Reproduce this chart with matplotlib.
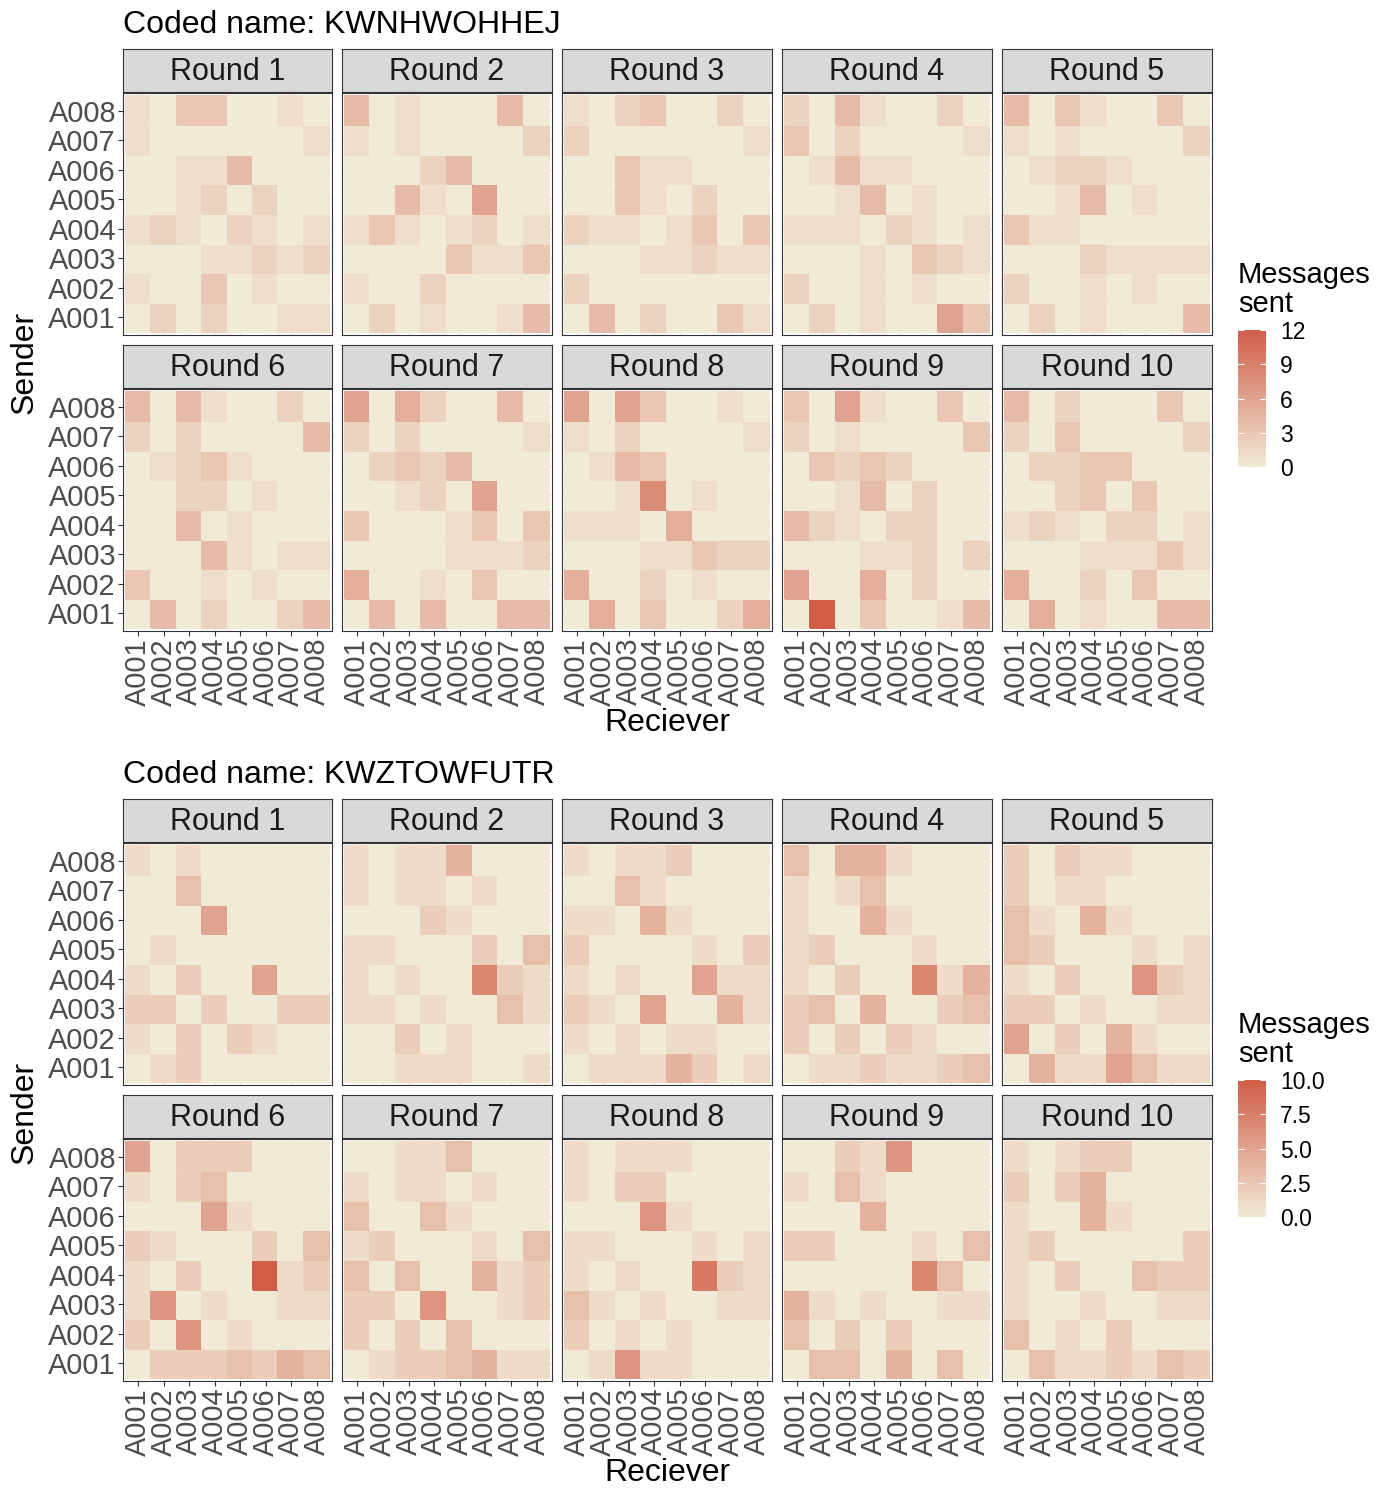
import numpy as np
import matplotlib
matplotlib.use('Agg')
import matplotlib as mpl
import matplotlib.pyplot as plt
from matplotlib.colors import LinearSegmentedColormap, Normalize

plt.rcParams['font.family'] = ['Liberation Sans', 'DejaVu Sans']

agents = ['A001', 'A002', 'A003', 'A004', 'A005', 'A006', 'A007', 'A008']
rounds = ['Round %d' % i for i in range(1, 11)]

# messages sent, rows = sender A008 (top) .. A001 (bottom), cols = receiver A001..A008
kwnh_rounds = [
    [[1,0,3,3,0,0,1,0],[1,0,0,0,0,0,0,1],[0,0,1,1,4,0,0,0],[0,0,1,2,0,2,0,0],
     [1,2,1,0,2,1,0,1],[0,0,0,1,1,2,1,2],[1,0,0,3,0,1,0,0],[0,2,0,2,0,0,1,1]],
    [[4,0,1,0,0,0,4,0],[1,0,1,0,0,0,0,2],[0,0,0,2,4,0,0,0],[0,0,4,1,0,6,0,0],
     [1,3,1,0,1,2,0,1],[0,0,0,0,3,1,1,3],[1,0,0,2,0,0,0,0],[0,2,0,1,0,0,1,4]],
    [[1,0,2,3,0,0,2,0],[2,0,0,0,0,0,0,1],[0,0,3,1,1,0,0,0],[0,0,3,1,0,2,0,0],
     [2,1,1,0,1,3,0,3],[0,0,0,1,1,2,1,1],[2,0,0,0,0,0,0,0],[0,4,0,2,0,0,3,1]],
    [[2,0,4,1,0,0,2,0],[3,0,2,0,0,0,0,1],[0,1,4,1,1,0,0,0],[0,0,1,4,0,1,0,0],
     [1,1,1,0,2,1,0,1],[0,0,0,1,0,3,2,1],[2,0,0,1,0,1,0,0],[0,2,0,1,0,0,6,3]],
    [[4,0,3,1,0,0,3,0],[1,0,1,0,0,0,0,2],[0,1,2,2,1,0,0,0],[0,0,1,4,0,1,0,0],
     [3,1,1,0,0,0,0,0],[0,0,0,2,1,1,1,1],[2,0,0,1,0,1,0,0],[0,2,0,1,0,0,0,4]],
    [[4,0,4,1,0,0,2,0],[2,0,2,0,0,0,0,4],[0,1,2,3,1,0,0,0],[0,0,2,2,0,1,0,0],
     [0,0,4,0,1,0,0,0],[0,0,0,4,1,0,1,1],[3,0,0,1,0,1,0,0],[0,4,0,2,0,0,2,4]],
    [[6,0,5,2,0,0,4,0],[2,0,2,0,0,0,0,1],[0,2,3,2,4,0,0,0],[0,0,1,2,0,6,0,0],
     [3,0,0,0,1,3,0,3],[0,0,0,0,1,1,1,2],[5,0,0,1,0,3,0,0],[0,4,0,4,0,0,4,4]],
    [[6,0,6,3,0,0,1,0],[1,0,2,0,0,0,0,1],[0,1,4,3,0,0,0,0],[0,0,1,8,0,1,0,0],
     [1,1,1,0,5,0,0,0],[0,0,0,1,1,3,2,2],[5,0,0,2,0,1,0,0],[0,5,0,3,0,0,2,5]],
    [[3,0,6,1,0,0,3,0],[2,0,1,0,0,0,0,3],[0,3,2,3,2,0,0,0],[0,0,1,4,0,2,0,0],
     [4,2,1,0,2,2,0,0],[0,0,0,1,1,2,0,2],[6,0,0,5,0,2,0,0],[0,12,0,3,0,0,1,4]],
    [[4,0,2,0,0,0,3,0],[2,0,3,0,0,0,0,2],[0,2,2,3,3,0,0,0],[0,0,2,3,0,3,0,0],
     [1,2,1,0,2,2,0,1],[0,0,0,1,1,1,3,1],[5,0,0,2,0,3,0,0],[0,5,0,1,0,0,4,4]],
]

kwzt_rounds = [
    [[1,0,1,0,0,0,0,0],[0,0,3,0,0,0,0,0],[0,0,0,5,0,0,0,0],[0,1,0,0,0,0,0,0],
     [1,0,2,0,0,5,0,0],[2,2,0,2,0,0,2,2],[1,0,2,0,2,1,0,0],[0,1,2,0,0,0,0,0]],
    [[1,0,1,1,4,0,0,0],[1,0,1,1,0,1,0,0],[0,0,0,2,1,0,0,0],[1,1,0,0,0,2,0,3],
     [1,0,1,0,0,7,2,1],[1,1,0,1,0,0,3,1],[0,0,2,0,1,0,0,0],[0,0,1,1,1,0,0,1]],
    [[1,0,1,1,2,0,0,0],[0,0,3,1,0,0,0,0],[1,1,0,4,1,0,0,0],[2,0,0,0,0,1,0,2],
     [1,0,1,0,0,5,1,1],[2,1,0,5,0,0,4,1],[1,0,1,0,1,1,0,0],[0,1,1,1,4,2,0,1]],
    [[3,0,4,4,1,0,0,0],[1,0,1,3,0,0,0,0],[1,0,0,4,1,0,0,0],[1,2,0,0,0,1,0,0],
     [1,0,2,0,0,7,1,4],[2,3,0,4,0,0,2,3],[2,0,2,0,2,1,0,0],[0,1,1,2,1,1,2,3]],
    [[2,0,2,1,1,0,0,0],[2,0,1,1,0,0,0,0],[3,1,0,4,1,0,0,0],[3,2,0,0,0,1,0,1],
     [1,0,2,0,0,6,2,1],[2,2,0,1,0,0,1,1],[5,0,2,0,4,1,0,0],[0,4,1,1,5,3,1,1]],
    [[5,0,2,2,2,0,0,0],[1,0,2,3,0,0,0,0],[0,0,0,5,1,0,0,0],[2,1,0,0,0,2,0,3],
     [1,0,2,0,0,10,1,2],[1,6,0,1,0,0,1,1],[2,0,6,0,1,0,0,0],[0,2,2,2,3,2,4,3]],
    [[0,0,1,1,3,0,0,0],[1,0,1,1,0,1,0,0],[3,0,0,3,1,0,0,0],[1,2,0,0,0,1,0,3],
     [3,0,3,0,0,4,1,2],[2,2,0,6,0,0,1,2],[2,0,2,0,3,0,0,0],[0,1,2,2,3,4,1,1]],
    [[1,0,1,1,1,0,0,0],[1,0,2,2,0,0,0,0],[0,0,0,6,1,0,0,0],[1,1,0,0,0,1,0,1],
     [1,0,1,0,0,8,2,1],[3,1,0,1,0,0,1,1],[2,0,1,0,1,0,0,0],[0,1,6,1,1,0,0,0]],
    [[0,0,2,1,6,0,0,0],[1,0,3,1,0,0,0,0],[0,0,0,4,0,0,0,0],[2,2,0,0,0,1,0,3],
     [0,0,0,0,0,7,3,0],[4,1,0,1,0,0,1,1],[3,0,2,0,2,0,0,0],[0,3,3,0,4,0,3,0]],
    [[1,0,1,2,2,0,0,0],[2,0,2,4,0,0,0,0],[1,0,0,4,1,0,0,0],[1,2,0,0,0,0,0,2],
     [1,0,2,0,0,3,2,2],[1,0,0,1,0,0,1,1],[3,0,1,0,2,0,0,0],[0,3,1,1,2,1,3,2]],
]

kwnh_ticks = [0, 3, 6, 9, 12]
kwnh_ticklabels = ['0', '3', '6', '9', '12']
kwzt_ticks = [0, 2.5, 5, 7.5, 10]
kwzt_ticklabels = ['0.0', '2.5', '5.0', '7.5', '10.0']

cmap = LinearSegmentedColormap.from_list('msg', ['#F1EAD7', '#D05D47'])

W, H = 1388, 1490
fig = plt.figure(figsize=(W / 100, H / 100), dpi=100)


def box(x0, y0, x1, y1):
    # pixel box (top-left origin) -> figure fraction rect
    return [x0 / W, 1 - y1 / H, (x1 - x0) / W, (y1 - y0) / H]


col_x = [(123, 332), (342, 552), (562, 772), (782, 992), (1002, 1212)]


def draw_group(mats, vmax, ticks, ticklabels, title, off):
    fig.text(123 / W, 1 - (33 + off) / H, title, fontsize=23, ha='left', va='baseline')
    for k, m in enumerate(mats):
        r, c = divmod(k, 5)
        x0, x1 = col_x[c]
        sy0 = 49 + 296 * r + off
        # strip
        sax = fig.add_axes(box(x0, sy0, x1, sy0 + 43))
        sax.set_facecolor('#D9D9D9')
        sax.set_xticks([])
        sax.set_yticks([])
        for sp in sax.spines.values():
            sp.set_color('#333333')
            sp.set_linewidth(0.8)
        sax.text(0.5, 0.47, rounds[k], ha='center', va='center', fontsize=22,
                 color='#1A1A1A', transform=sax.transAxes)
        # panel
        ax = fig.add_axes(box(x0, sy0 + 44, x1, sy0 + 286))
        z = np.array(m)[::-1]
        ax.pcolormesh(np.arange(9) - 0.5, np.arange(9) - 0.5, z, cmap=cmap,
                      vmin=0, vmax=vmax, zorder=2, edgecolors='face', linewidth=0.3)
        ax.set_xlim(-0.6, 7.6)
        ax.set_ylim(-0.6, 7.6)
        ax.set_xticks(range(8))
        ax.set_yticks(range(8))
        ax.grid(color='#EBEBEB', lw=1, zorder=0)
        ax.set_axisbelow(True)
        for sp in ax.spines.values():
            sp.set_color('#333333')
            sp.set_linewidth(0.8)
            sp.set_zorder(5)
        if c == 0:
            ax.set_yticklabels(agents)
            ax.tick_params(axis='y', length=3.5, width=0.8, color='#333333',
                           labelsize=20.8, labelcolor='#4D4D4D', pad=1.5)
        else:
            ax.tick_params(axis='y', left=False, labelleft=False)
        if r == 1:
            ax.set_xticklabels(agents, rotation=90)
            ax.tick_params(axis='x', length=3.5, width=0.8, color='#333333',
                           labelsize=20.8, labelcolor='#4D4D4D', pad=1.5)
        else:
            ax.tick_params(axis='x', bottom=False, labelbottom=False)

    fig.text(25 / W, 1 - (362 + off) / H, 'Sender', rotation=90, fontsize=23,
             ha='center', va='center')
    fig.text(667.5 / W, 1 - (723 + off) / H, 'Reciever', fontsize=23,
             ha='center', va='center')

    # legend
    fig.text(1238 / W, 1 - (283 + off) / H, 'Messages', fontsize=21, va='baseline')
    fig.text(1238 / W, 1 - (312 + off) / H, 'sent', fontsize=21, va='baseline')
    cax = fig.add_axes(box(1238, 330 + off, 1266, 467 + off))
    sm = mpl.cm.ScalarMappable(norm=Normalize(0, vmax), cmap=cmap)
    cb = fig.colorbar(sm, cax=cax, ticks=ticks)
    cb.outline.set_visible(False)
    cb.set_ticklabels(ticklabels)
    cax.tick_params(direction='in', length=4, width=0.8, color='white',
                    labelsize=16.5, labelcolor='black', pad=10, left=True, right=True)


draw_group(kwnh_rounds, 12, kwnh_ticks, kwnh_ticklabels, 'Coded name: KWNHWOHHEJ', 0)
draw_group(kwzt_rounds, 10, kwzt_ticks, kwzt_ticklabels, 'Coded name: KWZTOWFUTR', 750)

fig.savefig('out.png', dpi=100)
